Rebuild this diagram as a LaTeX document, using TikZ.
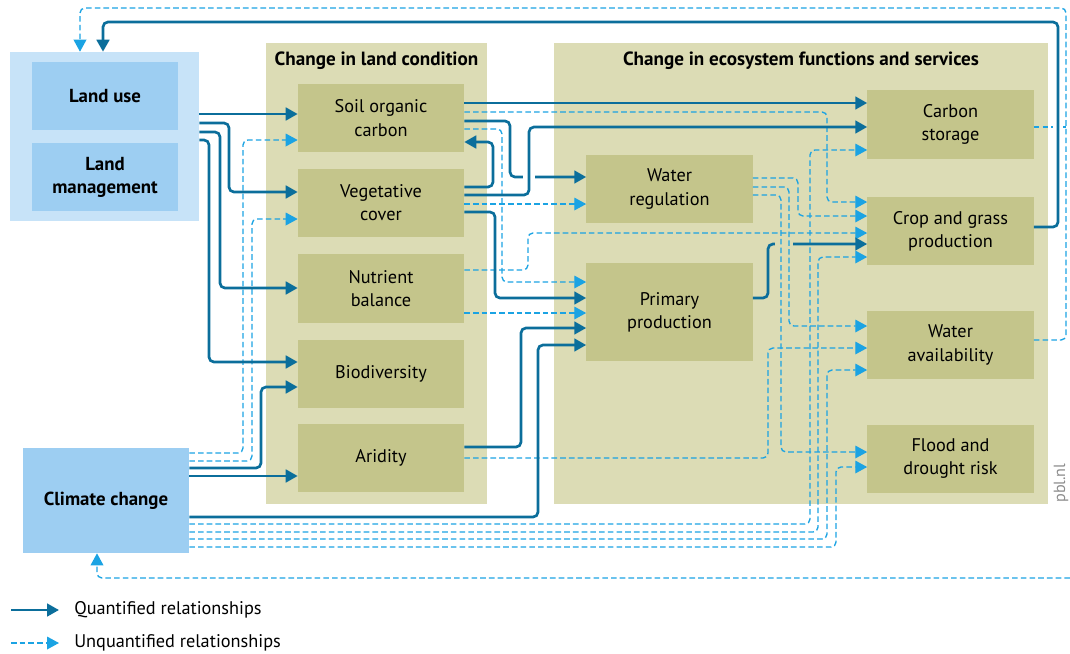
\documentclass[tikz,border=0pt]{standalone}
\usepackage{fontspec}
\setmainfont{PT Sans}
\usetikzlibrary{arrows.meta}

\definecolor{qblue}{HTML}{0B6E9B}
\definecolor{ublue}{HTML}{1BA3E3}
\definecolor{groupfill}{HTML}{DCDCB5}
\definecolor{boxfill}{HTML}{C4C58B}
\definecolor{landouter}{HTML}{C7E3F8}
\definecolor{landbox}{HTML}{9DCEF2}

\begin{document}
\begin{tikzpicture}[x=0.025cm, y=-0.025cm,
    boxtext/.style={align=center, inner sep=0pt, font=\fontsize{13}{16.5}\selectfont},
    condbox/.style={boxtext, fill=boxfill, minimum width=4.15cm, minimum height=1.7cm},
    drivbox/.style={boxtext, fill=landbox, font=\bfseries\fontsize{13.4}{16.5}\selectfont},
    grouptitle/.style={font=\bfseries\fontsize{13.6}{15}\selectfont, inner sep=0pt},
    legtext/.style={anchor=west, inner sep=0pt, font=\fontsize{13}{15}\selectfont},
    qrel/.style={qblue, line width=1.9pt, rounded corners=3.5pt, -{Triangle[length=8.5pt,width=9pt]}},
    urel/.style={ublue, line width=0.95pt, dash pattern=on 4pt off 2.2pt, rounded corners=3.5pt, -{Triangle[length=8.5pt,width=9pt]}}]
  \useasboundingbox (0,0) rectangle (1070,653);

  % groups
  \fill[groupfill] (266,43) rectangle (487,504);
  \fill[groupfill] (554,43) rectangle (1048,504);
  \node[grouptitle] (lctitle) at (376.5,61) {Change in land condition};
  \node[grouptitle] (estitle) at (801,61) {Change in ecosystem functions and services};

  % drivers
  \node[fill=landouter, minimum width=4.725cm, minimum height=4.225cm, inner sep=0pt] (lbox) at (104.5,136.5) {};
  \node[drivbox, minimum width=3.65cm, minimum height=1.7cm] (luse) at (105,96) {Land use};
  \node[drivbox, minimum width=3.65cm, minimum height=1.7cm] (lman) at (105,177) {Land\\management};
  \node[drivbox, minimum width=4.15cm, minimum height=2.625cm] (clim) at (106,500.5) {Climate change};

  % land condition
  \node[condbox] (soc) at (381,118) {Soil organic\\carbon};
  \node[condbox] (veg) at (381,203) {Vegetative\\cover};
  \node[condbox] (nut) at (381,288.5) {Nutrient\\balance};
  \node[condbox] (bio) at (381,373.5) {Biodiversity};
  \node[condbox] (ari) at (381,458) {Aridity};

  % ecosystem functions and services
  \node[condbox] (wr) at (669.5,189) {Water\\regulation};
  \node[condbox, minimum height=2.45cm] (pp) at (669.5,312) {Primary\\production};
  \node[condbox] (cs) at (950.5,124.5) {Carbon\\storage};
  \node[condbox] (crop) at (950.5,231) {Crop and grass\\production};
  \node[condbox] (wa) at (950.5,345) {Water\\availability};
  \node[condbox] (fd) at (950.5,458.5) {Flood and\\drought risk};

  \node[rotate=90, anchor=west, inner sep=0pt, text=black!45, font=\fontsize{11.5}{13}\selectfont] (pbl) at (1061,503) {pbl.nl};

  % unquantified
  \draw[urel] (clim.east |- 0,453) -| (243,140) -- (soc.west |- 0,140);
  \draw[urel] (clim.east |- 0,461) -| (252,219) -- (veg.west |- 0,219);
  \draw[urel] (clim.east |- 0,524) -| (810,150) -- (cs.west |- 0,150);
  \draw[urel] (clim.east |- 0,532) -| (818,257) -- (crop.west |- 0,257);
  \draw[urel] (clim.east |- 0,539) -| (827,370) -- (wa.west |- 0,370);
  \draw[urel] (clim.east |- 0,547) -| (836,467) -- (fd.west |- 0,467);
  \draw[urel] (soc.east |- 0,112) -| (827,202) -- (crop.west |- 0,202);
  \draw[urel] (soc.east |- 0,129) -| (502,282) -- (pp.west |- 0,282);
  \draw[urel] (veg.east |- 0,204) -- (wr.west |- 0,204);
  \draw[urel] (nut.east |- 0,270) -| (528,233) -- (crop.west |- 0,233);
  \draw[urel] (nut.east |- 0,313) -- (pp.west |- 0,313);
  \draw[urel] (ari.east |- 0,458) -| (768,348) -- (wa.west |- 0,348);
  \draw[urel] (wr.east |- 0,178) -| (798,216) -- (crop.west |- 0,216);

  % quantified
  \draw[qrel] (lbox.east |- 0,114) -- (soc.west |- 0,114);
  \draw[qrel] (lbox.east |- 0,123) -| (229,192) -- (veg.west |- 0,192);
  \draw[qrel] (lbox.east |- 0,132) -| (220,288) -- (nut.west |- 0,288);
  \draw[qrel] (lbox.east |- 0,140) -| (209,362) -- (bio.west |- 0,362);
  \draw[qrel] (clim.east |- 0,468) -| (261,387) -- (bio.west |- 0,387);
  \draw[qrel] (clim.east |- 0,476) -- (ari.west |- 0,476);
  \draw[qrel] (clim.east |- 0,517) -| (538,345) -- (pp.west |- 0,345);
  \draw[qrel] (ari.east |- 0,447) -| (521,328) -- (pp.west |- 0,328);
  \draw[qrel] (soc.east |- 0,103) -- (cs.west |- 0,103);
  \draw[qrel] (veg.east |- 0,187) -| (493,142) -- (soc.east |- 0,142);
  \draw[qrel] (veg.east |- 0,212) -| (495,298) -- (pp.west |- 0,298);
  \draw[qrel] (soc.east |- 0,121) -| (510,177) -- (wr.west |- 0,177);
  \fill[white] (523,173) rectangle (535,181);
  \draw[qrel] (veg.east |- 0,195) -| (529,127) -- (cs.west |- 0,127);
  \draw[qrel] (pp.east |- 0,298) -| (768,244) -- (crop.west |- 0,244);
  \fill[groupfill] (775,239) rectangle (793,249);
  \draw[urel] (wr.east |- 0,187) -| (789,326) -- (wa.west |- 0,326);
  \draw[urel] (wr.east |- 0,195) -| (781,452) -- (fd.west |- 0,452);

  % feedback
  \coordinate (fbc) at (1066,127);
  \coordinate (fbin) at (1070,578);
  \draw[urel, -] (cs.east |- 0,127) -- (fbc);
  \fill[white] (1053,123) rectangle (1063,131);
  \draw[qrel] (crop.east |- 0,227) -| (1058,22) -| (lbox.north -| 103,0);
  \draw[urel] (wa.east |- 0,340) -| (1066,8) -| (lbox.north -| 80,0);
  \draw[urel] (fbin) -| (clim.south -| 97,0);

  % legend
  \coordinate (lq) at (11,610);
  \coordinate (lu) at (11,643);
  \draw[qrel] (lq) -- ++(48,0);
  \draw[urel] (lu) -- ++(48,0);
  \node[legtext] (legq) at (74,610) {Quantified relationships};
  \node[legtext] (legu) at (74,643) {Unquantified relationships};
\end{tikzpicture}
\end{document}
